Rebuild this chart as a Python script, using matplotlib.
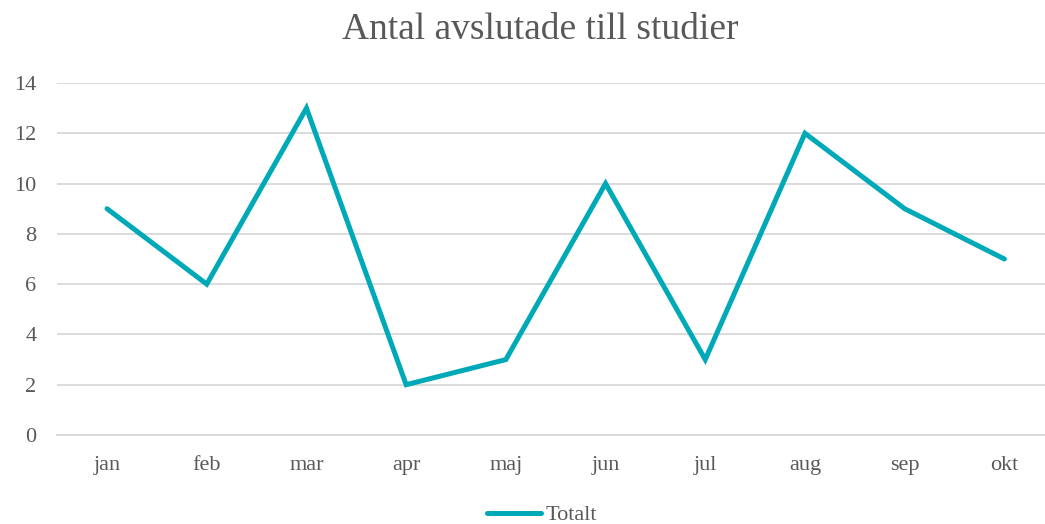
import matplotlib.pyplot as plt

months = ["jan", "feb", "mar", "apr", "maj", "jun", "jul", "aug", "sep", "okt"]
totalt = [9, 6, 13, 2, 3, 10, 3, 12, 9, 7]

plt.rcParams['font.family'] = ['Liberation Serif', 'DejaVu Serif']
text_color = "#595959"
grid_color = "#d9d9d9"

fig = plt.figure(figsize=(10.45, 5.24), dpi=100)
ax = fig.add_axes([57.2 / 1045, 1 - 435 / 524, 997 / 1045, 352 / 524])

ax.plot(range(len(months)), totalt, color="#00a9b8", lw=3.6, label="Totalt",
        solid_joinstyle="miter", solid_capstyle="round")

ax.set_xlim(-0.5, 9.5)
ax.set_ylim(0, 14)
ax.set_yticks(range(0, 15, 2))
ax.set_xticks(range(len(months)))
ax.set_xticklabels(months)
ax.yaxis.grid(True, color=grid_color, lw=1.3)
ax.set_axisbelow(True)
for s in ["top", "right", "left"]:
    ax.spines[s].set_visible(False)
ax.spines["bottom"].set_color(grid_color)
ax.spines["bottom"].set_linewidth(1.3)
ax.tick_params(axis="both", length=0, labelsize=16, labelcolor=text_color)
ax.tick_params(axis="y", pad=15)
ax.tick_params(axis="x", pad=15)

fig.text(540 / 1045, 1 - 30 / 524, "Antal avslutade till studier", ha="center",
         va="center", fontsize=27, color=text_color)

leg = fig.legend(loc="center", bbox_to_anchor=(542 / 1045, 1 - 515 / 524),
                 frameon=False, fontsize=16, handlelength=2.4, handletextpad=0.2,
                 labelcolor=text_color)

fig.savefig("out.png", dpi=100)
